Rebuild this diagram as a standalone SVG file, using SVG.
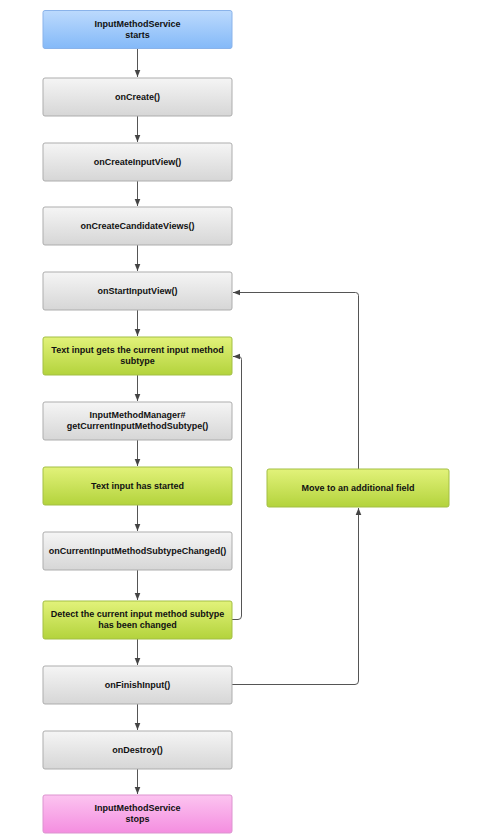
<svg xmlns="http://www.w3.org/2000/svg" width="487" height="838" viewBox="0 0 487 838">
<defs>
<linearGradient id="gGray" x1="0" y1="0" x2="0" y2="1"><stop offset="0" stop-color="#f5f5f5"/><stop offset="1" stop-color="#d6d6d6"/></linearGradient>
<linearGradient id="gBlue" x1="0" y1="0" x2="0" y2="1"><stop offset="0" stop-color="#bcdafd"/><stop offset="1" stop-color="#84b9f8"/></linearGradient>
<linearGradient id="gGreen" x1="0" y1="0" x2="0" y2="1"><stop offset="0" stop-color="#e2f27a"/><stop offset="1" stop-color="#b3d33c"/></linearGradient>
<linearGradient id="gPink" x1="0" y1="0" x2="0" y2="1"><stop offset="0" stop-color="#fcc4f0"/><stop offset="1" stop-color="#f48ee0"/></linearGradient>
<marker id="arr" viewBox="0 0 10 10" refX="10" refY="5" markerWidth="7" markerHeight="7" markerUnits="userSpaceOnUse" orient="auto"><path d="M0,1 L10,5 L0,9 Z" fill="#444"/></marker>
</defs>
<style>
.box{stroke-width:1}
.gray{fill:url(#gGray);stroke:#adadad}
.blue{fill:url(#gBlue);stroke:#8ab3ea}
.green{fill:url(#gGreen);stroke:#a3bf45}
.pink{fill:url(#gPink);stroke:#dc94cf}
text{font-family:"Liberation Sans",Arial,sans-serif;font-weight:bold;font-size:9px;fill:#111;text-anchor:middle}
.conn path{fill:none;stroke:#555;stroke-width:1;marker-end:url(#arr)}
</style>
<rect width="487" height="838" fill="#fff"/>
<g class="conn">
<path d="M137.5,49 V77"/>
<path d="M137.5,116 V142"/>
<path d="M137.5,181 V206"/>
<path d="M137.5,245 V271"/>
<path d="M137.5,310 V336"/>
<path d="M137.5,375 V401"/>
<path d="M137.5,440 V466"/>
<path d="M137.5,505 V531"/>
<path d="M137.5,570 V600"/>
<path d="M137.5,639 V665"/>
<path d="M137.5,704 V730"/>
<path d="M137.5,769 V794"/>
<path d="M232,619.5 H238 Q241.5,619.5 241.5,616 V359.5 Q241.5,356.5 238.5,356.5 H233"/>
<path d="M232,684.5 H355 Q358.5,684.5 358.5,681 V508"/>
<path d="M358.5,469 V295.5 Q358.5,292.5 355.5,292.5 H233"/>
</g>
<g id="n1"><rect class="box blue" x="43" y="10.5" width="189" height="38" rx="2"/><text x="137.5" y="26.5">InputMethodService</text><text x="137.5" y="37.5">starts</text></g>
<g id="n2"><rect class="box gray" x="43" y="78" width="189" height="38" rx="2"/><text x="137.5" y="100">onCreate()</text></g>
<g id="n3"><rect class="box gray" x="43" y="143" width="189" height="38" rx="2"/><text x="137.5" y="165">onCreateInputView()</text></g>
<g id="n4"><rect class="box gray" x="43" y="207" width="189" height="38" rx="2"/><text x="137.5" y="229">onCreateCandidateViews()</text></g>
<g id="n5"><rect class="box gray" x="43" y="272" width="189" height="38" rx="2"/><text x="137.5" y="294">onStartInputView()</text></g>
<g id="n6"><rect class="box green" x="43" y="337" width="189" height="38" rx="2"/><text x="137.5" y="353">Text input gets the current input method</text><text x="137.5" y="364">subtype</text></g>
<g id="n7"><rect class="box gray" x="43" y="402" width="189" height="38" rx="2"/><text x="137.5" y="418">InputMethodManager#</text><text x="137.5" y="429">getCurrentInputMethodSubtype()</text></g>
<g id="n8"><rect class="box green" x="43" y="467" width="189" height="38" rx="2"/><text x="137.5" y="489">Text input has started</text></g>
<g id="n9"><rect class="box gray" x="43" y="532" width="189" height="38" rx="2"/><text x="137.5" y="554">onCurrentInputMethodSubtypeChanged()</text></g>
<g id="n10"><rect class="box green" x="43" y="601" width="189" height="38" rx="2"/><text x="137.5" y="617">Detect the current input method subtype</text><text x="137.5" y="628">has been changed</text></g>
<g id="n11"><rect class="box gray" x="43" y="666" width="189" height="38" rx="2"/><text x="137.5" y="688">onFinishInput()</text></g>
<g id="n12"><rect class="box gray" x="43" y="731" width="189" height="38" rx="2"/><text x="137.5" y="753">onDestroy()</text></g>
<g id="n13"><rect class="box pink" x="43" y="795" width="189" height="38" rx="2"/><text x="137.5" y="811">InputMethodService</text><text x="137.5" y="822">stops</text></g>
<g id="n14"><rect class="box green" x="267" y="469" width="182" height="38" rx="2"/><text x="358" y="491">Move to an additional field</text></g>
</svg>
